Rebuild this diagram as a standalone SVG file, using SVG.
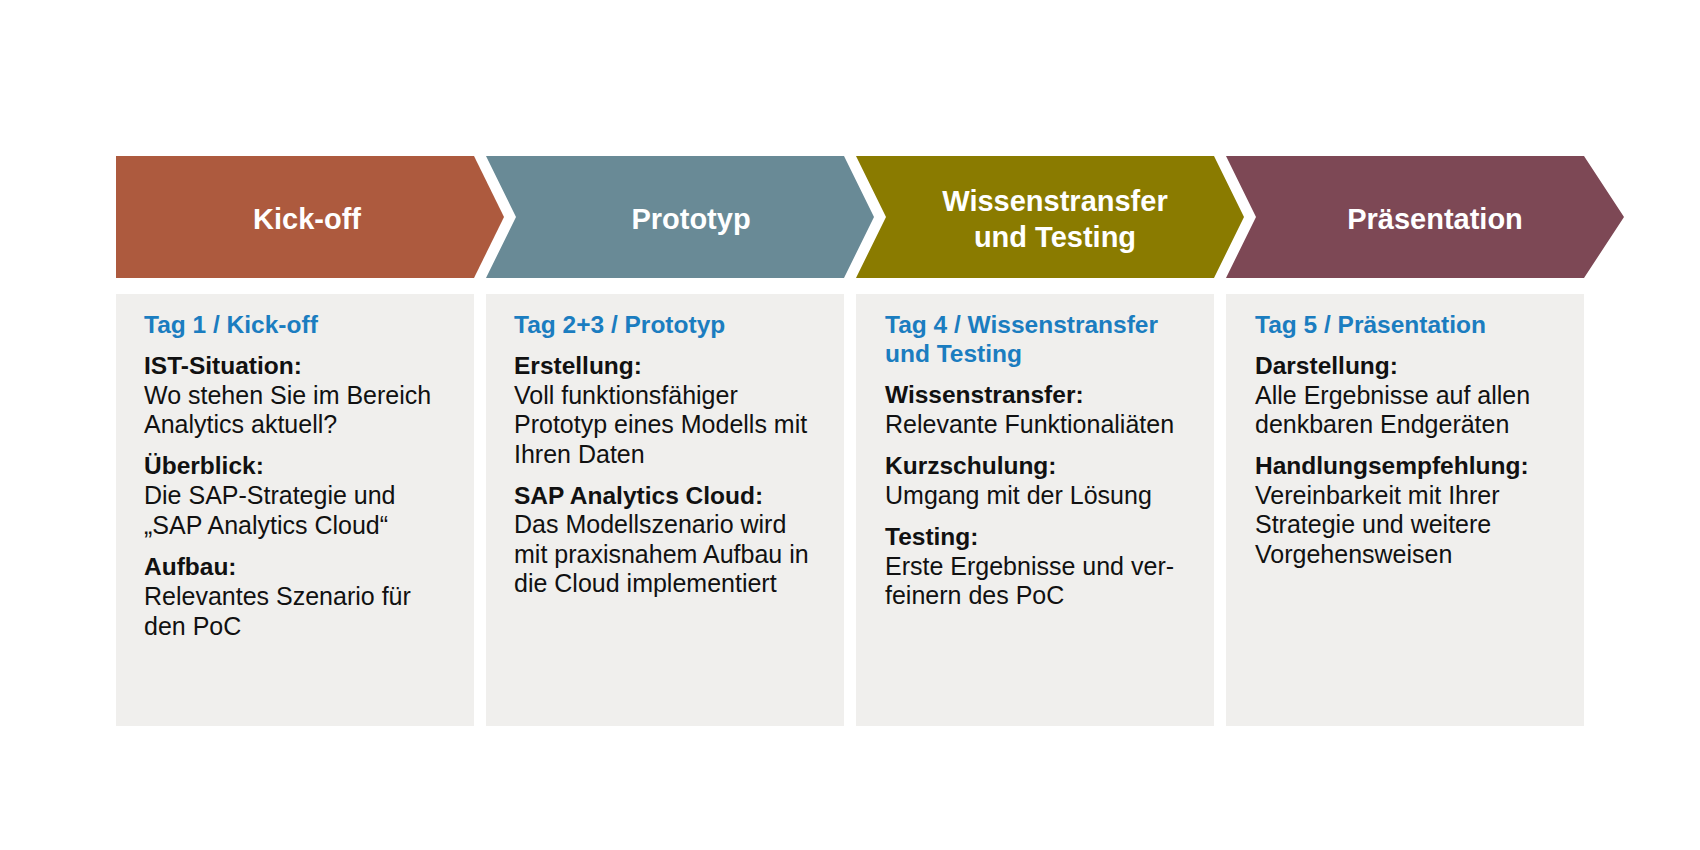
<svg xmlns="http://www.w3.org/2000/svg" width="1700" height="850" viewBox="0 0 1700 850">
<style>
.lbl{font-family:"Liberation Sans",Arial,sans-serif;font-size:29px;font-weight:bold;fill:#ffffff;text-anchor:middle}
.box{fill:#f0efed}
.hd{font-family:"Liberation Sans",Arial,sans-serif;font-size:24.5px;font-weight:bold;fill:#1b7dc0}
.b{font-family:"Liberation Sans",Arial,sans-serif;font-size:24.5px;font-weight:bold;fill:#111111}
.t{font-family:"Liberation Sans",Arial,sans-serif;font-size:25px;fill:#111111}
</style>
<rect width="1700" height="850" fill="#ffffff"/>
<g id="step1">
<polygon points="116,156 474,156 504,217 474,278 116,278" fill="#ad5a3e"/>
<text class="lbl" x="307" y="229">Kick-off</text>
</g>
<g id="step2">
<polygon points="486,156 844,156 874,217 844,278 486,278 516,217" fill="#698a96"/>
<text class="lbl" x="691" y="229">Prototyp</text>
</g>
<g id="step3">
<polygon points="856,156 1214,156 1244,217 1214,278 856,278 886,217" fill="#8a7b00"/>
<text class="lbl" x="1055" y="211">Wissenstransfer</text>
<text class="lbl" x="1055" y="247">und Testing</text>
</g>
<g id="step4">
<polygon points="1226,156 1584,156 1624,217 1584,278 1226,278 1256,217" fill="#7d4855"/>
<text class="lbl" x="1435" y="229">Präsentation</text>
</g>
<g id="connectors"></g>
<g id="card1">
<rect class="box" x="116" y="294" width="358" height="432"/>
<text class="hd" x="144" y="333">Tag 1 / Kick-off</text>
<text class="b" x="144" y="374">IST-Situation:</text>
<text class="t" x="144" y="404">Wo stehen Sie im Bereich</text>
<text class="t" x="144" y="433">Analytics aktuell?</text>
<text class="b" x="144" y="474">Überblick:</text>
<text class="t" x="144" y="504">Die SAP-Strategie und</text>
<text class="t" x="144" y="534">„SAP Analytics Cloud“</text>
<text class="b" x="144" y="575">Aufbau:</text>
<text class="t" x="144" y="605">Relevantes Szenario für</text>
<text class="t" x="144" y="635">den PoC</text>
</g>
<g id="card2">
<rect class="box" x="486" y="294" width="358" height="432"/>
<text class="hd" x="514" y="333">Tag 2+3 / Prototyp</text>
<text class="b" x="514" y="374">Erstellung:</text>
<text class="t" x="514" y="404">Voll funktionsfähiger</text>
<text class="t" x="514" y="433">Prototyp eines Modells mit</text>
<text class="t" x="514" y="463">Ihren Daten</text>
<text class="b" x="514" y="504">SAP Analytics Cloud:</text>
<text class="t" x="514" y="533">Das Modellszenario wird</text>
<text class="t" x="514" y="563">mit praxisnahem Aufbau in</text>
<text class="t" x="514" y="592">die Cloud implementiert</text>
</g>
<g id="card3">
<rect class="box" x="856" y="294" width="358" height="432"/>
<text class="hd" x="885" y="333">Tag 4 / Wissenstransfer</text>
<text class="hd" x="885" y="362">und Testing</text>
<text class="b" x="885" y="403">Wissenstransfer:</text>
<text class="t" x="885" y="433">Relevante Funktionaliäten</text>
<text class="b" x="885" y="474">Kurzschulung:</text>
<text class="t" x="885" y="504">Umgang mit der Lösung</text>
<text class="b" x="885" y="545">Testing:</text>
<text class="t" x="885" y="575">Erste Ergebnisse und ver-</text>
<text class="t" x="885" y="604">feinern des PoC</text>
</g>
<g id="card4">
<rect class="box" x="1226" y="294" width="358" height="432"/>
<text class="hd" x="1255" y="333">Tag 5 / Präsentation</text>
<text class="b" x="1255" y="374">Darstellung:</text>
<text class="t" x="1255" y="404">Alle Ergebnisse auf allen</text>
<text class="t" x="1255" y="433">denkbaren Endgeräten</text>
<text class="b" x="1255" y="474">Handlungsempfehlung:</text>
<text class="t" x="1255" y="504">Vereinbarkeit mit Ihrer</text>
<text class="t" x="1255" y="533">Strategie und weitere</text>
<text class="t" x="1255" y="563">Vorgehensweisen</text>
</g>
</svg>
